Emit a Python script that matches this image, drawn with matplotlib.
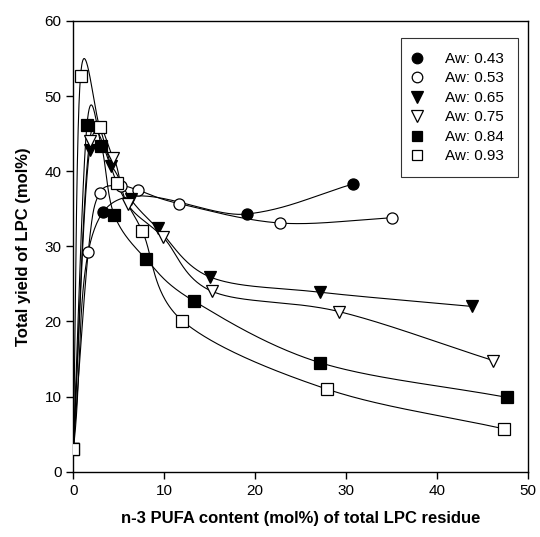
import numpy as np
import matplotlib.pyplot as plt

plt.rcParams['font.family'] = ['Liberation Sans', 'DejaVu Sans']

# data: (n-3 PUFA content, total yield of LPC)
x_043 = [0, 3.3, 19.1, 30.8]
y_043 = [3, 34.6, 34.3, 38.3]

x_053 = [0, 1.65, 2.9, 5.3, 7.1, 11.6, 22.8, 35.1]
y_053 = [3, 29.3, 37.1, 38.0, 37.5, 35.7, 33.1, 33.8]

x_065 = [0, 1.8, 4.2, 6.3, 9.3, 15.1, 27.1, 43.9]
y_065 = [3, 42.8, 40.7, 36.3, 32.4, 25.9, 23.9, 22.0]

x_075 = [0, 1.8, 4.4, 6.0, 9.9, 15.3, 29.3, 46.2]
y_075 = [3, 44.0, 41.8, 35.6, 31.2, 24.0, 21.3, 14.8]

x_084 = [0, 1.5, 3.1, 4.5, 8.0, 13.3, 27.2, 47.7]
y_084 = [3, 46.1, 43.3, 34.2, 28.3, 22.7, 14.5, 9.9]

x_093 = [0, 0.8, 2.9, 4.8, 7.6, 12.0, 27.9, 47.4]
y_093 = [3, 52.7, 45.9, 38.4, 32.0, 20.1, 11.0, 5.7]

labels = ['Aw: 0.43', 'Aw: 0.53', 'Aw: 0.65', 'Aw: 0.75', 'Aw: 0.84', 'Aw: 0.93']


def spline(xs, ys, n=60):
    # uniform Catmull-Rom curve through the points
    P = np.column_stack([xs, ys]).astype(float)
    k = len(P)
    T = np.zeros_like(P)
    T[0] = P[1] - P[0]
    T[-1] = P[-1] - P[-2]
    T[1:-1] = (P[2:] - P[:-2]) / 2
    t = np.linspace(0, 1, n)[:, None]
    h00 = 2 * t**3 - 3 * t**2 + 1
    h10 = t**3 - 2 * t**2 + t
    h01 = -2 * t**3 + 3 * t**2
    h11 = t**3 - t**2
    segs = [h00 * P[i] + h10 * T[i] + h01 * P[i + 1] + h11 * T[i + 1]
            for i in range(k - 1)]
    c = np.vstack(segs)
    return c[:, 0], c[:, 1]


series = [
    (x_043, y_043, 'o', 'black', 8),
    (x_053, y_053, 'o', 'white', 8),
    (x_065, y_065, 'v', 'black', 9),
    (x_075, y_075, 'v', 'white', 9),
    (x_084, y_084, 's', 'black', 8),
    (x_093, y_093, 's', 'white', 8),
]

fig = plt.figure(figsize=(5.4, 5.37), dpi=100)
ax = fig.add_axes([0.1357, 0.1216, 0.8413, 0.8393])

for (xs, ys, m, fc, ms), lab in zip(series, labels):
    cx, cy = spline(xs, ys)
    ax.plot(cx, cy, color='black', lw=0.8, zorder=2)
    ax.plot(xs, ys, ls='none', marker=m, mfc=fc, mec='black', mew=0.9,
            ms=ms, label=lab, zorder=3)

ax.set_xlim(0, 50)
ax.set_ylim(0, 60)
ax.set_xticks(range(0, 51, 10))
ax.set_yticks(range(0, 61, 10))
ax.tick_params(direction='out', length=5, width=1, labelsize=11,
               top=False, right=False)
for s in ax.spines.values():
    s.set_linewidth(1)
ax.set_xlabel('n-3 PUFA content (mol%) of total LPC residue',
              fontsize=12, fontweight='bold', labelpad=10)
ax.set_ylabel('Total yield of LPC (mol%)', fontsize=12, fontweight='bold',
              labelpad=10)

leg = ax.legend(loc='upper right', bbox_to_anchor=(0.978, 0.962), fontsize=11,
                fancybox=False, frameon=True, edgecolor='black',
                handlelength=0.4, handletextpad=1.6, labelspacing=0.36,
                borderpad=0.9, borderaxespad=0, markerscale=0.95)
leg.get_frame().set_linewidth(0.8)

plt.savefig('out.png', dpi=100)
